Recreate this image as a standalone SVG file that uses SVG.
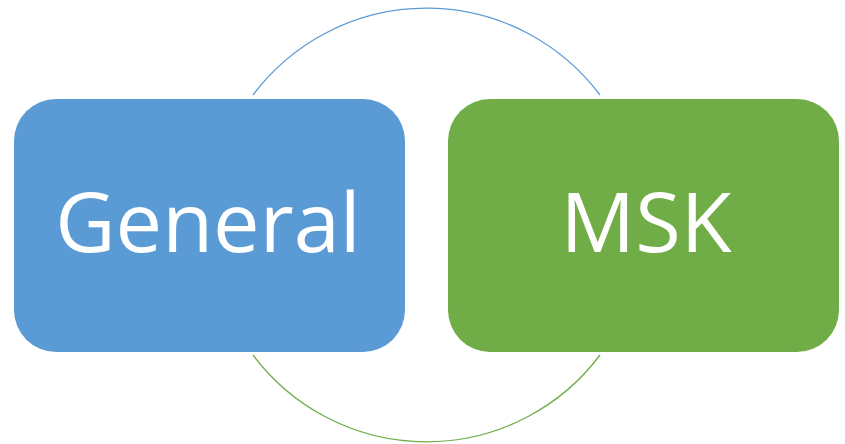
<svg xmlns="http://www.w3.org/2000/svg" width="845" height="444" viewBox="0 0 845 444">
<style>
.lbl{font-family:"Open Sans","Liberation Sans",sans-serif;font-size:83px;fill:#ffffff;text-anchor:middle}
.arc{fill:none;stroke-width:1.3}
</style>
<rect width="845" height="444" fill="#ffffff"/>
<g id="connectors">
<path class="arc" stroke="#5B9BD5" d="M253,95 A216.8,216.8 0 0 1 600,95"/>
<path class="arc" stroke="#70AD47" d="M253,355 A216.8,216.8 0 0 0 600,355"/>
</g>
<g id="general">
<rect x="14" y="99" width="391" height="253" rx="42" ry="42" fill="#5B9BD5"/>
<text class="lbl" x="208" y="252">General</text>
</g>
<g id="msk">
<rect x="448" y="99" width="391" height="253" rx="42" ry="42" fill="#70AD47"/>
<text class="lbl" x="646" y="252">MSK</text>
</g>
</svg>
